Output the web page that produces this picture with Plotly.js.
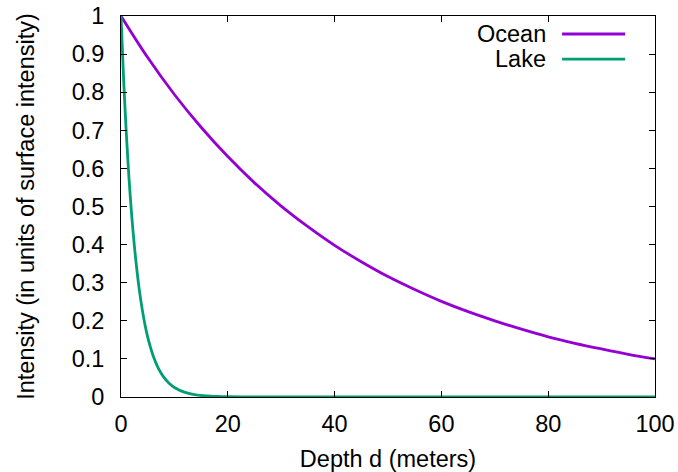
<!DOCTYPE html>
<html>
<head>
<meta charset="utf-8">
<script src="https://cdn.plot.ly/plotly-3.0.1.min.js"></script>
<style>html,body{margin:0;padding:0;background:#fff;}#chart{width:678px;height:472px;}</style>
</head>
<body>
<div id="chart"></div>
<script>
// Depth (m) and intensity values
var oceanDepth = [0, 5, 10, 15, 20, 25, 30, 35, 40, 45, 50, 55, 60, 65, 70, 75, 80, 85, 90, 95, 100];
var oceanIntensity = [1, 0.891, 0.794, 0.708, 0.631, 0.562, 0.501, 0.447, 0.398, 0.355, 0.316, 0.282, 0.251, 0.224, 0.200, 0.178, 0.158, 0.141, 0.126, 0.112, 0.100];

var lakeDepth = [0, 0.5, 1, 1.5, 2, 2.5, 3, 3.5, 4, 4.5, 5, 6, 7, 8, 9, 10, 12, 14, 16, 18, 20, 25, 30, 40, 50, 60, 70, 80, 90, 100];
var lakeIntensity = [1, 0.831, 0.691, 0.574, 0.477, 0.397, 0.330, 0.274, 0.228, 0.189, 0.157, 0.109, 0.075, 0.052, 0.036, 0.025, 0.012, 0.0056, 0.0027, 0.0013, 0.0006, 0.0001, 0, 0, 0, 0, 0, 0, 0, 0];

var seriesNames = ["Ocean", "Lake"];
var seriesColors = ["#9400d3", "#009e73"];

var xTicks = [0, 20, 40, 60, 80, 100];
var yTicks = [0, 0.1, 0.2, 0.3, 0.4, 0.5, 0.6, 0.7, 0.8, 0.9, 1];

var FONT = "Liberation Sans, Arial, Helvetica, sans-serif";
var FS = 23.5;

var traces = [
  {x: oceanDepth, y: oceanIntensity, name: seriesNames[0], mode: "lines",
   line: {color: seriesColors[0], width: 2.8, shape: "spline", smoothing: 1}},
  {x: lakeDepth, y: lakeIntensity, name: seriesNames[1], mode: "lines",
   line: {color: seriesColors[1], width: 2.8, shape: "spline", smoothing: 0.8}}
];

var legY = [0.9528, 0.887];
var shapes = [], annotations = [];
for (var i = 0; i < seriesNames.length; i++) {
  shapes.push({type: "line", xref: "paper", yref: "paper", x0: 0.826, x1: 0.944, y0: legY[i], y1: legY[i],
               line: {color: seriesColors[i], width: 2.8}});
  annotations.push({xref: "paper", yref: "paper", x: 0.798, y: legY[i], xanchor: "right", yanchor: "middle",
                    text: seriesNames[i], showarrow: false, borderpad: 0, height: 22,
                    font: {family: FONT, size: FS, color: "#000"}});
}

var layout = {
  width: 678, height: 472,
  margin: {l: 121, r: 23, t: 16, b: 75, pad: 0},
  paper_bgcolor: "#fff", plot_bgcolor: "#fff",
  showlegend: false,
  font: {family: FONT, size: FS, color: "#000"},
  xaxis: {
    range: [0, 100], tickmode: "array", tickvals: xTicks, ticktext: xTicks.map(String),
    ticks: "inside", ticklen: 6, tickwidth: 1, tickcolor: "#000",
    showline: true, linecolor: "#000", linewidth: 1, mirror: "ticks",
    showgrid: false, zeroline: false, ticklabelstandoff: 6,
    tickfont: {family: FONT, size: FS, color: "#000"},
    title: {text: "Depth d (meters)", font: {family: FONT, size: FS, color: "#000"}, standoff: 15}
  },
  yaxis: {
    range: [0, 1], tickmode: "array", tickvals: yTicks, ticktext: yTicks.map(String),
    ticks: "inside", ticklen: 6, tickwidth: 1, tickcolor: "#000",
    showline: true, linecolor: "#000", linewidth: 1, mirror: "ticks",
    showgrid: false, zeroline: false, ticklabelstandoff: 11,
    tickfont: {family: FONT, size: FS, color: "#000"},
    title: {text: "Intensity (in units of surface intensity)", font: {family: FONT, size: FS, color: "#000"}, standoff: 30}
  },
  shapes: shapes,
  annotations: annotations
};

Plotly.newPlot("chart", traces, layout, {displayModeBar: false, staticPlot: true});
</script>
</body>
</html>
